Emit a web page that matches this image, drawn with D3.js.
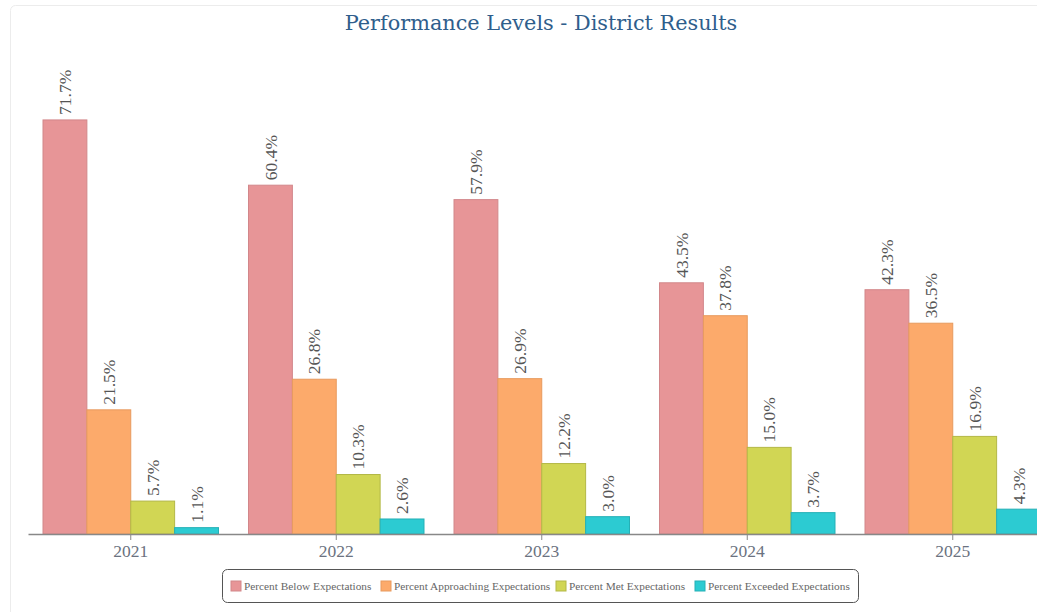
<!DOCTYPE html>
<html>
<head>
<meta charset="utf-8">
<script src="https://cdn.jsdelivr.net/npm/d3@7"></script>
<style>
    body { margin: 0; background: #fff; overflow: hidden; }
    svg { display: block; }
</style>
</head>
<body>
<svg id="chart"></svg>
<script>
// chart data
const years = ['2021', '2022', '2023', '2024', '2025'];
const seriesNames = [
    'Percent Below Expectations',
    'Percent Approaching Expectations',
    'Percent Met Expectations',
    'Percent Exceeded Expectations',
];
const belowValues = [71.7, 60.4, 57.9, 43.5, 42.3];
const approachingValues = [21.5, 26.8, 26.9, 37.8, 36.5];
const metValues = [5.7, 10.3, 12.2, 15.0, 16.9];
const exceededValues = [1.1, 2.6, 3.0, 3.7, 4.3];
const seriesColors = ['#e79597', '#fcaa6b', '#d1d654', '#2ccbd2'];
const seriesStrokes = ['#d2878a', '#e89a5e', '#b3b846', '#25b0b6'];

const allValues = [belowValues, approachingValues, metValues, exceededValues];

const W = 1037, H = 612;
const svg = d3.select('#chart').attr('width', W).attr('height', H);

// card border
svg.append('rect')
    .attr('x', 10.5).attr('y', 5.5)
    .attr('width', W + 20).attr('height', H + 20)
    .attr('rx', 5)
    .attr('fill', 'none')
    .attr('stroke', '#ececec');

// title
svg.append('text')
    .attr('x', 541).attr('y', 30)
    .attr('text-anchor', 'middle')
    .style('font-family', '"DejaVu Serif", serif')
    .style('font-size', '20.8px')
    .attr('fill', '#2f5e8c')
    .text('Performance Levels - District Results');

// scales - the plot is wider than the window and gets cut on the right
const x0 = d3.scaleBand().domain(years).range([28, 1055.5])
    .paddingInner(0.146).paddingOuter(0.073);
const x1 = d3.scaleBand().domain(d3.range(seriesNames.length)).range([0, x0.bandwidth()]);
const y = d3.scaleLinear().domain([0, 80]).range([534, 72]);

const groups = svg.append('g')
    .selectAll('g')
    .data(years)
    .join('g')
    .attr('transform', (d) => `translate(${x0(d)},0)`);

groups.selectAll('rect')
    .data((d, i) => allValues.map((vals, s) => ({ s, v: vals[i] })))
    .join('rect')
    .attr('x', (d) => x1(d.s))
    .attr('y', (d) => y(d.v))
    .attr('width', x1.bandwidth())
    .attr('height', (d) => y(0) - y(d.v))
    .attr('fill', (d) => seriesColors[d.s])
    .attr('stroke', (d) => seriesStrokes[d.s])
    .attr('stroke-width', 1);

// value labels, rotated
groups.selectAll('text')
    .data((d, i) => allValues.map((vals, s) => ({ s, v: vals[i] })))
    .join('text')
    .attr('transform', (d) => `translate(${x1(d.s) + x1.bandwidth() / 2},${y(d.v) - 5}) rotate(-90)`)
    .attr('dy', '0.35em')
    .attr('text-anchor', 'start')
    .style('font-family', '"Liberation Serif", serif')
    .style('font-size', '17.5px')
    .attr('fill', '#555')
    .text((d) => d.v.toFixed(1) + '%');

// x axis
const xAxis = svg.append('g')
    .attr('transform', `translate(0,${y(0)})`)
    .call(d3.axisBottom(x0).tickSize(6).tickSizeOuter(0).tickPadding(5));
xAxis.select('.domain').attr('stroke', '#888').attr('stroke-width', 1.5);
xAxis.selectAll('.tick line').attr('stroke', '#888');
xAxis.selectAll('.tick text')
    .style('font-family', '"Liberation Serif", serif')
    .style('font-size', '17.5px')
    .attr('fill', '#6b7280');

// legend
const legend = svg.append('g');
legend.append('rect')
    .attr('x', 222.5).attr('y', 569.5)
    .attr('width', 636).attr('height', 33)
    .attr('rx', 5)
    .attr('fill', '#fff')
    .attr('stroke', '#555');

const legendX = [231, 381, 556, 695];
const item = legend.selectAll('g.item')
    .data(seriesNames)
    .join('g')
    .attr('class', 'item')
    .attr('transform', (d, i) => `translate(${legendX[i]},586)`);
item.append('rect')
    .attr('x', 0).attr('y', -5)
    .attr('width', 10).attr('height', 10)
    .attr('fill', (d, i) => seriesColors[i])
    .attr('stroke', (d, i) => seriesStrokes[i]);
item.append('text')
    .attr('x', 13).attr('dy', '0.35em')
    .style('font-family', '"Liberation Serif", serif')
    .style('font-size', '11.3px')
    .attr('fill', '#666')
    .text((d) => d);
</script>
</body>
</html>
